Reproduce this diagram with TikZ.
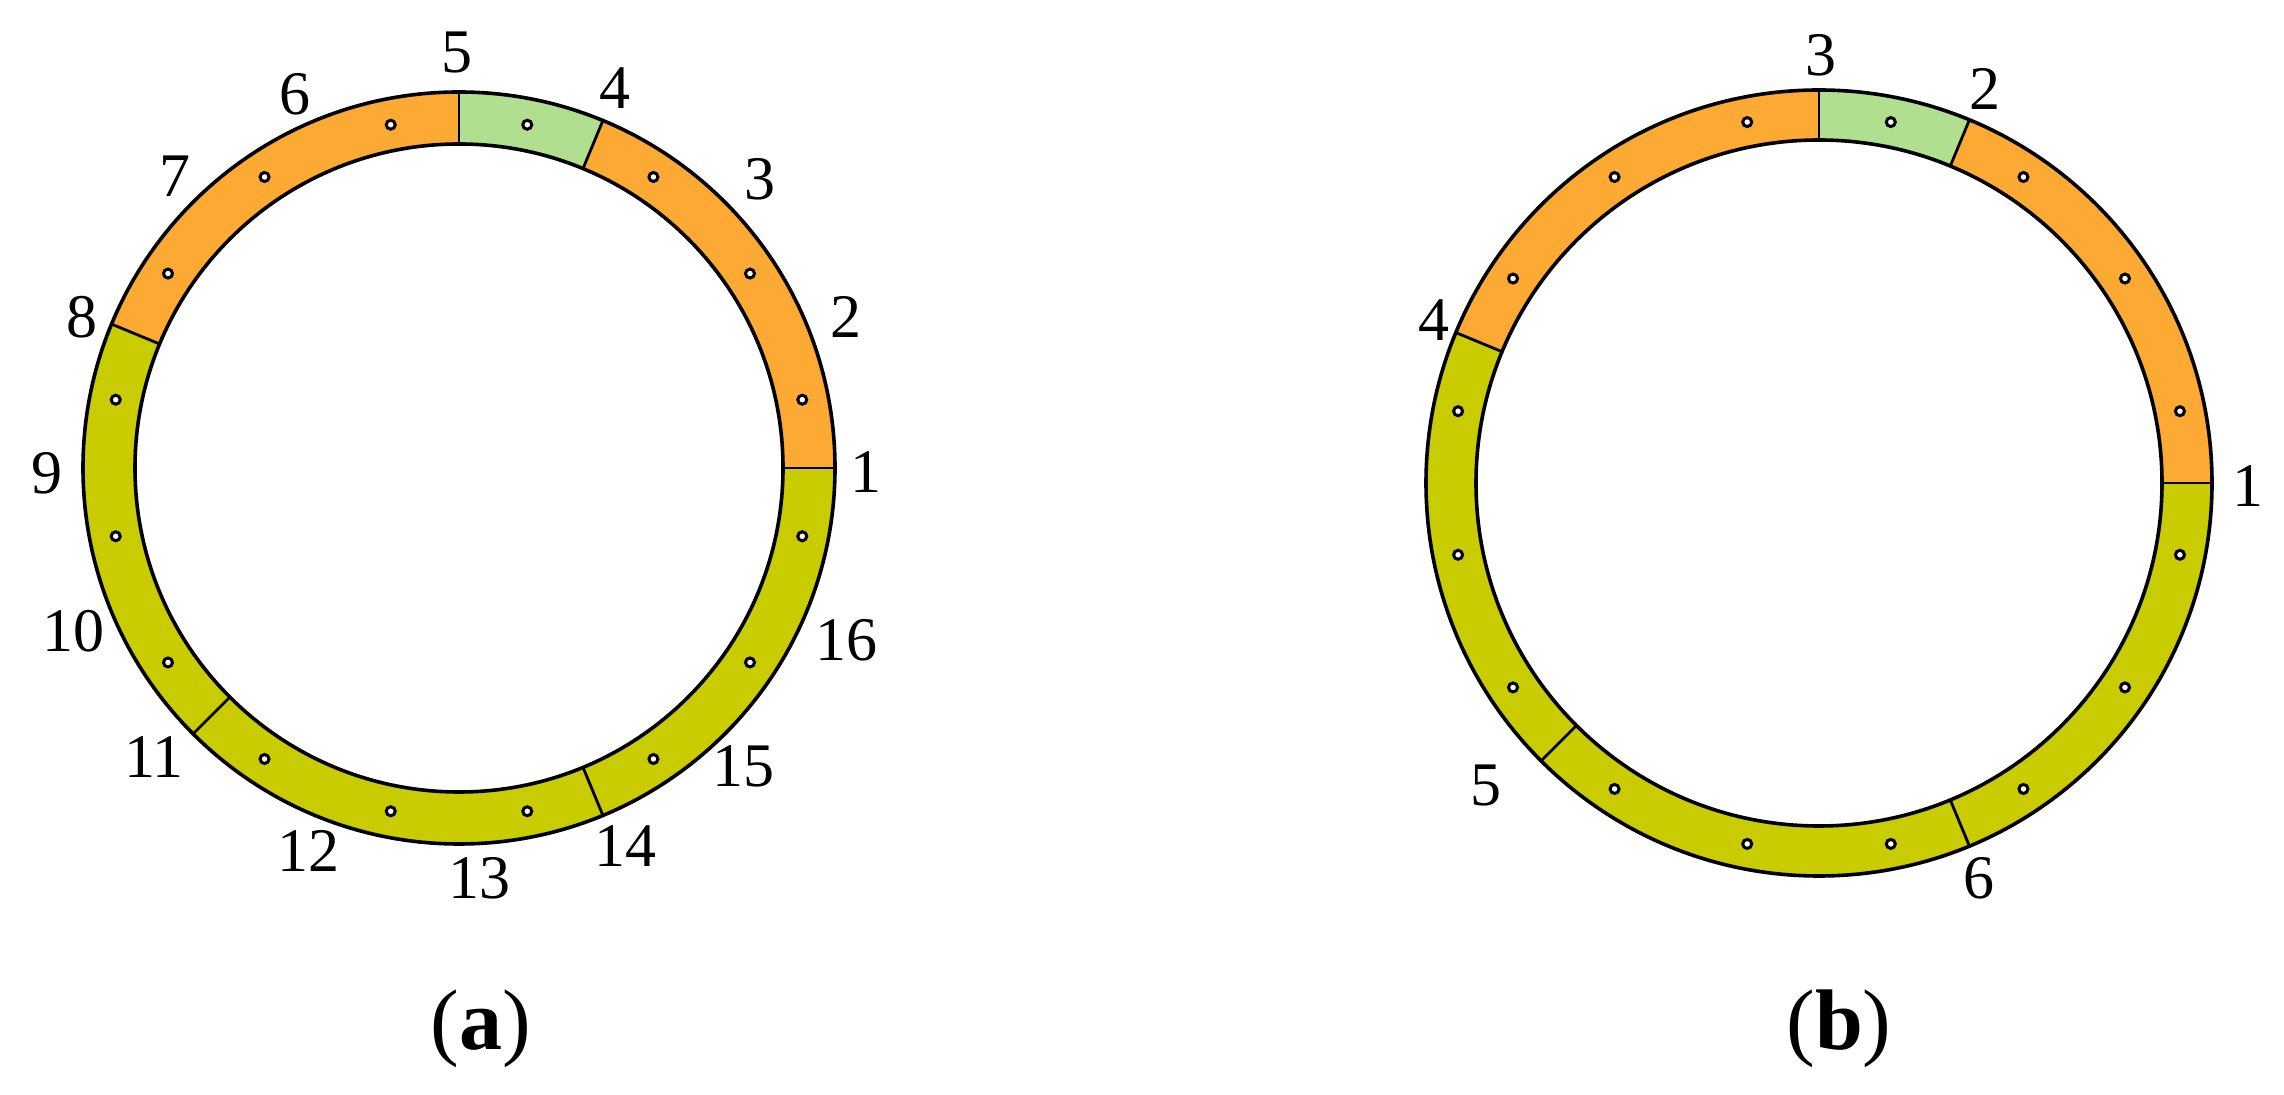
\documentclass[tikz,border=0pt]{standalone}
\usepackage{fontspec}
\setmainfont{Liberation Serif}
\definecolor{ringorange}{RGB}{252,170,51}
\definecolor{ringgreen}{RGB}{176,223,144}
\definecolor{ringolive}{RGB}{200,204,0}
\tikzset{
  lbl/.style={inner sep=0pt, font=\fontsize{62}{62}\selectfont},
  captext/.style={inner sep=0pt, anchor=base, font=\fontsize{86}{86}\selectfont},
  outline/.style={line width=3.6pt, draw=black},
  divider/.style={line width=2.8pt, draw=black},
  hole/.style={line width=3pt, draw=black, fill=white},
}
\newcommand{\myring}[2]{%
  \foreach \a/\b/\c in {0/67.5/ringorange, 67.5/90/ringgreen, 90/157.5/ringorange, 157.5/360/ringolive}{
    \fill[\c] (\a:#1) arc[start angle=\a, end angle=\b, radius=#1] -- (\b:#2) arc[start angle=\b, end angle=\a, radius=#2] -- cycle;
  }
  \foreach \a in {0,67.5,90,157.5,225,292.5}{
    \draw[divider] (\a:#2) -- (\a:#1);
  }
  \draw[outline] (0,0) circle[radius=#1];
  \draw[outline] (0,0) circle[radius=#2];
  \pgfmathsetmacro{\midrad}{(#1+#2)/2}
  \foreach \k in {0,...,15}{
    \pgfmathsetmacro{\ang}{11.25+22.5*\k}
    \draw[hole] (\ang:\midrad) circle[radius=4.5];
  }
}
\begin{document}
\begin{tikzpicture}[x=1pt,y=1pt]
\useasboundingbox (0,0) rectangle (2284,1095);
% ring (a)
\begin{scope}[shift={(459,627)}]
  \myring{376}{324}
\end{scope}
% ring (b)
\begin{scope}[shift={(1819,612)}]
  \myring{393}{343}
\end{scope}
% labels (a)
\node[lbl] (a1) at (866,623) {1};
\node[lbl] (a2) at (846,778) {2};
\node[lbl] (a3) at (760,916) {3};
\node[lbl] (a4) at (615,1007) {4};
\node[lbl] (a5) at (457,1042) {5};
\node[lbl] (a6) at (295,1001) {6};
\node[lbl] (a7) at (175,919) {7};
\node[lbl] (a8) at (82,778) {8};
\node[lbl] (a9) at (47,622) {9};
\node[lbl] (a10) at (73,464) {10};
\node[lbl] (a11) at (154,338) {11};
\node[lbl] (a12) at (308,244) {12};
\node[lbl] (a13) at (479,217) {13};
\node[lbl] (a14) at (625,249) {14};
\node[lbl] (a15) at (743,329) {15};
\node[lbl] (a16) at (846,455) {16};
% labels (b)
\node[lbl] (b1) at (2248,609) {1};
\node[lbl] (b2) at (1985,1006) {2};
\node[lbl] (b3) at (1821,1040) {3};
\node[lbl] (b4) at (1434,775) {4};
\node[lbl] (b5) at (1486,309) {5};
\node[lbl] (b6) at (1979,217) {6};
% captions
\node[captext] (capa) at (481,45) {(\textbf{a})};
\node[captext] (capb) at (1839,45) {(\textbf{b})};
\end{tikzpicture}
\end{document}
